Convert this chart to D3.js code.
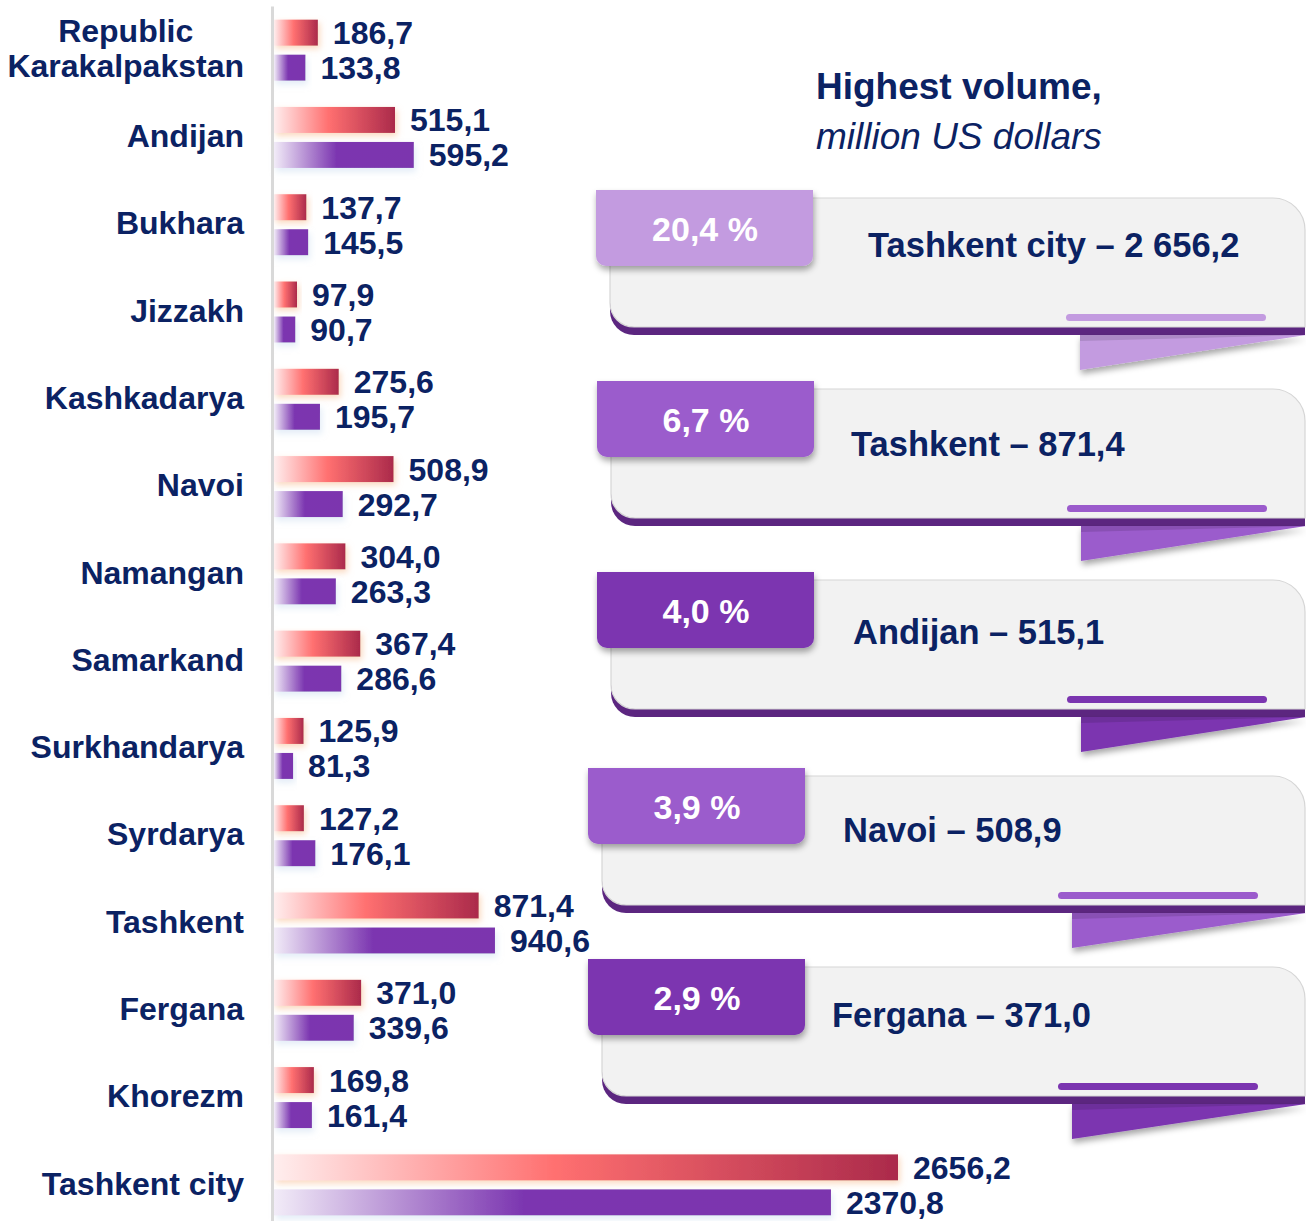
<!DOCTYPE html>
<html>
<head>
<meta charset="utf-8">
<script src="https://cdn.jsdelivr.net/npm/d3@7"></script>
<style>
  body { margin: 0; background: #fff; }
  text { font-family: "Liberation Sans", Arial, sans-serif; }
</style>
</head>
<body>
<div id="chart"></div>
<script>
const regions = [
  'Republic\nKarakalpakstan', 'Andijan', 'Bukhara', 'Jizzakh', 'Kashkadarya',
  'Navoi', 'Namangan', 'Samarkand', 'Surkhandarya', 'Syrdarya',
  'Tashkent', 'Fergana', 'Khorezm', 'Tashkent city'
];
const valuesRed = [186.7, 515.1, 137.7, 97.9, 275.6, 508.9, 304.0, 367.4, 125.9, 127.2, 871.4, 371.0, 169.8, 2656.2];
const valuesPurple = [133.8, 595.2, 145.5, 90.7, 195.7, 292.7, 263.3, 286.6, 81.3, 176.1, 940.6, 339.6, 161.4, 2370.8];

const topRegions = ['Tashkent city', 'Tashkent', 'Andijan', 'Navoi', 'Fergana'];
const topValues = [2656.2, 871.4, 515.1, 508.9, 371.0];
const topShares = [20.4, 6.7, 4.0, 3.9, 2.9];

// card placement (layout only)
const cardPos = [
  { x: 596, y: 190, textX: 868, textY: 245 },
  { x: 597, y: 381, textX: 851, textY: 444 },
  { x: 597, y: 572, textX: 853, textY: 632 },
  { x: 588, y: 768, textX: 843, textY: 830 },
  { x: 588, y: 959, textX: 832, textY: 1015 }
];
const tabColors = ['#c39be0', '#9b5bcc', '#7b35b0', '#9b5bcc', '#7b35b0'];

const navy = '#0b2263';
const width = 1306, height = 1221;

const locale = d3.formatLocale({ decimal: ',', thousands: '\u00a0', grouping: [3], currency: ['', ''] });
const fmtBar = locale.format('.1f');
const fmtCard = locale.format(',.1f');

const svg = d3.select('#chart').append('svg')
  .attr('width', width)
  .attr('height', height);

const defs = svg.append('defs');

const gRed = defs.append('linearGradient').attr('id', 'gradRed');
gRed.append('stop').attr('offset', '0%').attr('stop-color', '#ffeeee');
gRed.append('stop').attr('offset', '45%').attr('stop-color', '#ff7070');
gRed.append('stop').attr('offset', '100%').attr('stop-color', '#ab2a4b');

const gPur = defs.append('linearGradient').attr('id', 'gradPurple');
gPur.append('stop').attr('offset', '0%').attr('stop-color', '#f2ecf8');
gPur.append('stop').attr('offset', '45%').attr('stop-color', '#7b35b0');
gPur.append('stop').attr('offset', '100%').attr('stop-color', '#7b35ae');

const fRed = defs.append('filter').attr('id', 'glowRed')
  .attr('x', '-10%').attr('y', '-30%').attr('width', '130%').attr('height', '180%');
fRed.append('feDropShadow').attr('dx', 2).attr('dy', 3).attr('stdDeviation', 3)
  .attr('flood-color', '#f7b98a').attr('flood-opacity', 0.55);

const fPur = defs.append('filter').attr('id', 'glowPurple')
  .attr('x', '-10%').attr('y', '-30%').attr('width', '130%').attr('height', '180%');
fPur.append('feDropShadow').attr('dx', 2).attr('dy', 4).attr('stdDeviation', 3)
  .attr('flood-color', '#c9dcf0').attr('flood-opacity', 0.5);

const fShadow = defs.append('filter').attr('id', 'shadow')
  .attr('x', '-10%').attr('y', '-20%').attr('width', '130%').attr('height', '160%');
fShadow.append('feDropShadow').attr('dx', 1).attr('dy', 4).attr('stdDeviation', 3)
  .attr('flood-color', '#000').attr('flood-opacity', 0.35);

// ---- left bar chart ----
const y = d3.scaleBand()
  .domain(regions)
  .range([6, 1228]);

const ySeries = d3.scaleBand()
  .domain(['red', 'purple'])
  .range([13.65, 74.65])
  .paddingInner(9 / 35);

const x = d3.scaleLinear()
  .domain([0, 2656.2])
  .range([274, 898]);

const rows = regions.map((r, i) => ({ region: r, red: valuesRed[i], purple: valuesPurple[i] }));

const row = svg.append('g').selectAll('g')
  .data(rows)
  .enter()
  .append('g')
  .attr('transform', d => `translate(0,${y(d.region)})`);

['red', 'purple'].forEach(s => {
  row.append('rect')
    .attr('x', x(0))
    .attr('y', ySeries(s))
    .attr('width', d => x(d[s]) - x(0))
    .attr('height', ySeries.bandwidth())
    .attr('fill', s === 'red' ? 'url(#gradRed)' : 'url(#gradPurple)')
    .attr('filter', s === 'red' ? 'url(#glowRed)' : 'url(#glowPurple)');

  row.append('text')
    .attr('x', d => x(d[s]) + 15)
    .attr('y', ySeries(s) + ySeries.bandwidth() / 2)
    .attr('dy', '0.36em')
    .attr('fill', navy)
    .style('font-size', '32px')
    .style('font-weight', 'bold')
    .text(d => fmtBar(d[s]));
});

const yAxis = d3.axisLeft(y)
  .tickSize(0)
  .tickSizeOuter(0)
  .tickPadding(28);

const axisG = svg.append('g')
  .attr('transform', 'translate(272,0)')
  .call(yAxis);

axisG.select('.domain')
  .attr('stroke', '#d9d9d9')
  .attr('stroke-width', 3);

axisG.selectAll('.tick text')
  .attr('fill', navy)
  .style('font-size', '32px')
  .style('font-weight', 'bold')
  .style('font-family', '"Liberation Sans", Arial, sans-serif')
  .each(function (d) {
    const lines = d.split('\n');
    if (lines.length < 2) return;
    // multi-line labels are centred on their widest line
    const t = d3.select(this);
    const widest = d3.max(lines, l => {
      t.text(l);
      return this.getComputedTextLength();
    });
    t.text(null).attr('dy', null).attr('text-anchor', 'middle');
    lines.forEach((l, i) => {
      t.append('tspan')
        .attr('x', -28 - widest / 2)
        .attr('y', (i - (lines.length - 1) / 2) * 35)
        .attr('dy', '0.32em')
        .text(l);
    });
  });

// ---- right side: title ----
svg.append('text')
  .attr('x', 816).attr('y', 99)
  .attr('fill', navy)
  .style('font-size', '37px')
  .style('font-weight', 'bold')
  .text('Highest volume,');

svg.append('text')
  .attr('x', 816).attr('y', 149)
  .attr('fill', navy)
  .style('font-size', '37px')
  .style('font-style', 'italic')
  .text('million US dollars');

// ---- right side: cards ----
const cards = topRegions.map((r, i) => ({
  region: r, value: topValues[i], share: topShares[i], color: tabColors[i], pos: cardPos[i]
}));

function bodyPath(p, dy) {
  const bx = p.x + 14, top = p.y + 8 + dy, bottom = p.y + 137 + dy, right = 1305;
  const rTR = 32, rBL = 24;
  return `M${bx},${top} H${right - rTR} A${rTR},${rTR} 0 0 1 ${right},${top + rTR}` +
    ` V${bottom} H${bx + rBL} A${rBL},${rBL} 0 0 1 ${bx},${bottom - rBL} Z`;
}

const card = svg.append('g').selectAll('g')
  .data(cards)
  .enter()
  .append('g');

// dark rim under the body
card.append('path')
  .attr('d', d => bodyPath(d.pos, 8))
  .attr('fill', '#5c2680');

card.append('path')
  .attr('d', d => bodyPath(d.pos, 0))
  .attr('fill', '#f2f2f2')
  .attr('stroke', '#d6d6d6')
  .attr('stroke-width', 1.2);

// highlight pill
card.append('rect')
  .attr('x', d => d.pos.x + 470)
  .attr('y', d => d.pos.y + 124)
  .attr('width', 200)
  .attr('height', 7)
  .attr('rx', 3.5)
  .attr('fill', d => d.color);

// folded ribbon under the card
card.append('path')
  .attr('d', d => `M${d.pos.x + 484},${d.pos.y + 145} L1306,${d.pos.y + 145} L${d.pos.x + 484},${d.pos.y + 180} Z`)
  .attr('fill', d => d.color)
  .attr('filter', 'url(#shadow)');

card.append('path')
  .attr('d', d => `M${d.pos.x + 484},${d.pos.y + 145} L1306,${d.pos.y + 145} L${d.pos.x + 484},${d.pos.y + 151} Z`)
  .attr('fill', d => d3.color(d.color).darker(0.35));

// percentage tab
card.append('path')
  .attr('d', d => {
    const p = d.pos, w = 217, h = 76, r = 10;
    return `M${p.x},${p.y} H${p.x + w} V${p.y + h - r} A${r},${r} 0 0 1 ${p.x + w - r},${p.y + h}` +
      ` H${p.x + r} A${r},${r} 0 0 1 ${p.x},${p.y + h - r} Z`;
  })
  .attr('fill', d => d.color)
  .attr('filter', 'url(#shadow)');

card.append('text')
  .attr('x', d => d.pos.x + 109)
  .attr('y', d => d.pos.y + 39)
  .attr('dy', '0.36em')
  .attr('text-anchor', 'middle')
  .attr('fill', '#fff')
  .style('font-size', '34px')
  .style('font-weight', 'bold')
  .text(d => fmtBar(d.share) + ' %');

card.append('text')
  .attr('x', d => d.pos.textX)
  .attr('y', d => d.pos.textY)
  .attr('dy', '0.36em')
  .attr('fill', navy)
  .style('font-size', '34.5px')
  .style('font-weight', 'bold')
  .text(d => `${d.region} \u2013 ${fmtCard(d.value)}`);
</script>
</body>
</html>
